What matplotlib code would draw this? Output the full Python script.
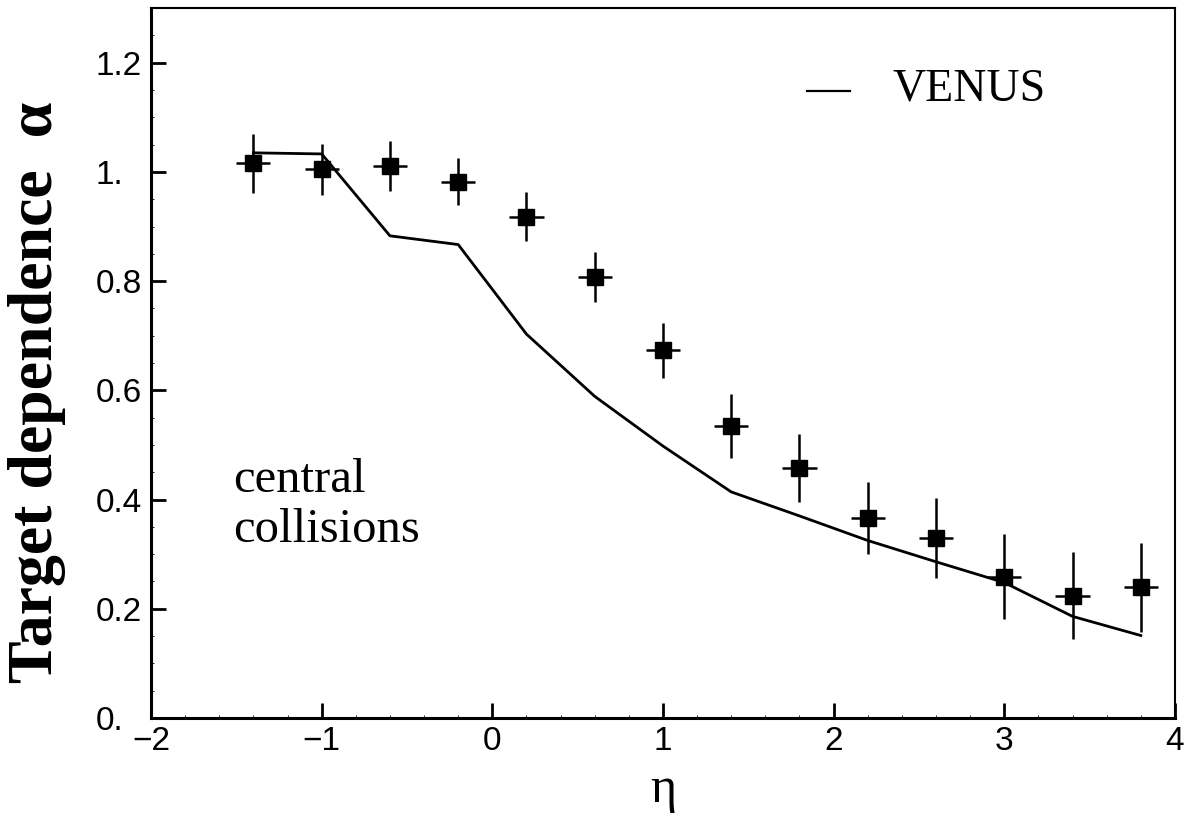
import numpy as np
import matplotlib.pyplot as plt
from matplotlib.ticker import MultipleLocator

# measured target dependence alpha vs pseudorapidity
eta = [-1.4, -1.0, -0.6, -0.2, 0.2, 0.6, 1.0, 1.4, 1.8, 2.2, 2.6, 3.0, 3.4, 3.8]
alpha = [1.016, 1.005, 1.011, 0.982, 0.918, 0.808, 0.673, 0.535, 0.458, 0.367, 0.330, 0.259, 0.224, 0.239]
alpha_err = [0.054, 0.047, 0.045, 0.043, 0.045, 0.046, 0.050, 0.058, 0.062, 0.066, 0.073, 0.078, 0.080, 0.082]
eta_err = 0.1

# VENUS model curve
venus_eta = [-1.4, -1.0, -0.6, -0.2, 0.2, 0.6, 1.0, 1.4, 1.8, 2.2, 2.6, 3.0, 3.4, 3.8]
venus_alpha = [1.035, 1.033, 0.883, 0.867, 0.703, 0.589, 0.498, 0.414, 0.370, 0.325, 0.286, 0.248, 0.186, 0.151]

yticks = [0.0, 0.2, 0.4, 0.6, 0.8, 1.0, 1.2]
ytick_labels = ['0.', '0.2', '0.4', '0.6', '0.8', '1.', '1.2']
xticks = [-2, -1, 0, 1, 2, 3, 4]

fig = plt.figure(figsize=(11.94, 8.14), dpi=100)
ax = fig.add_axes([0.1265, 0.118, 0.8575, 0.872])

ax.plot(venus_eta, venus_alpha, color='black', lw=2.0, zorder=2)
ax.errorbar(eta, alpha, yerr=alpha_err, xerr=eta_err, fmt='s', color='black',
            ms=12, elinewidth=1.8, capsize=0, zorder=3)

ax.set_xlim(-2, 4)
ax.set_ylim(0, 1.3)
ax.set_yticks(yticks)
ax.set_yticklabels(ytick_labels, ha='left')
ax.set_xticks(xticks)
ax.xaxis.set_minor_locator(MultipleLocator(0.2))
ax.yaxis.set_minor_locator(MultipleLocator(0.05))

for s in ['top', 'right']:
    ax.spines[s].set_linewidth(1.5)
for s in ['left', 'bottom']:
    ax.spines[s].set_linewidth(2.2)

ax.tick_params(which='major', direction='in', length=11, width=2,
               labelsize=24, top=False, right=False)
ax.tick_params(axis='x', which='major', pad=6)
ax.tick_params(axis='y', which='major', pad=40)
ax.tick_params(which='minor', direction='in', length=2.5, width=0.6,
               top=False, right=False)
for lab in ax.get_xticklabels() + ax.get_yticklabels():
    lab.set_fontfamily('Liberation Sans')

ax.set_xlabel('η', fontsize=36, family='Liberation Serif')
ax.xaxis.set_label_coords(0.5, -0.068)
ax.set_ylabel('Target dependence  α', fontsize=46, family='Liberation Serif',
              fontweight='bold')
ax.yaxis.set_label_coords(-0.083, 0.458)

# legend: short line segment plus label
ax.plot([0.641, 0.683], [0.883, 0.883], color='black', lw=1.6,
        transform=ax.transAxes)
ax.text(0.724, 0.870, 'VENUS', transform=ax.transAxes, fontsize=33,
        family='Liberation Serif', va='baseline', ha='left')

ax.text(0.08, 0.30, 'central\ncollisions', transform=ax.transAxes, fontsize=35,
        family='Liberation Serif', va='center', ha='left', linespacing=1.15)

fig.savefig('out.png', dpi=100)
